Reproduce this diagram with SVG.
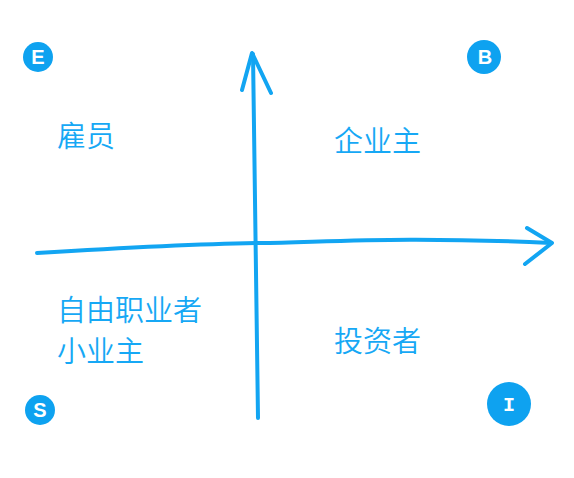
<svg xmlns="http://www.w3.org/2000/svg" width="574" height="478" viewBox="0 0 574 478">
<style>
.ax{fill:none;stroke:#12a5f2;stroke-width:4;stroke-linecap:round;stroke-linejoin:round}
.lbl{font-family:"Noto Sans CJK SC","Noto Sans",sans-serif;font-size:29px;font-weight:350;fill:#16a8f5}
.bd{fill:#0ea2f0}
.bt{font-family:"Liberation Sans",Arial,sans-serif;font-weight:bold;font-size:20px;fill:#fff;text-anchor:middle}
</style>
<rect width="574" height="478" fill="#fff"/>
<g id="connectors">
<path class="ax" d="M258,418 C257,330 255,200 253,54"/>
<path class="ax" d="M242,90 L252,53 L271,93"/>
<path class="ax" d="M37,253 C120,248 200,244 260,243 C330,242 400,236 551,243"/>
<path class="ax" d="M527,228 L552,243 L525,264"/>
</g>
<g id="badge-E"><circle class="bd" cx="38" cy="57" r="15"/><text class="bt" x="38" y="64">E</text></g>
<g id="badge-B"><circle class="bd" cx="484" cy="57" r="17"/><text class="bt" x="485" y="64">B</text></g>
<g id="badge-S"><circle class="bd" cx="40" cy="410" r="15"/><text class="bt" x="40" y="417">S</text></g>
<g id="badge-I"><circle class="bd" cx="509" cy="404" r="22"/><text class="bt" x="509" y="411" style="font-family:'Liberation Mono',monospace">I</text></g>
<g id="employee"><text class="lbl" x="57" y="147">雇员</text></g>
<g id="business-owner"><text class="lbl" x="334" y="152">企业主</text></g>
<g id="self-employed"><text class="lbl" x="57" y="321">自由职业者</text><text class="lbl" x="57" y="362">小业主</text></g>
<g id="investor"><text class="lbl" x="334" y="352">投资者</text></g>
</svg>
